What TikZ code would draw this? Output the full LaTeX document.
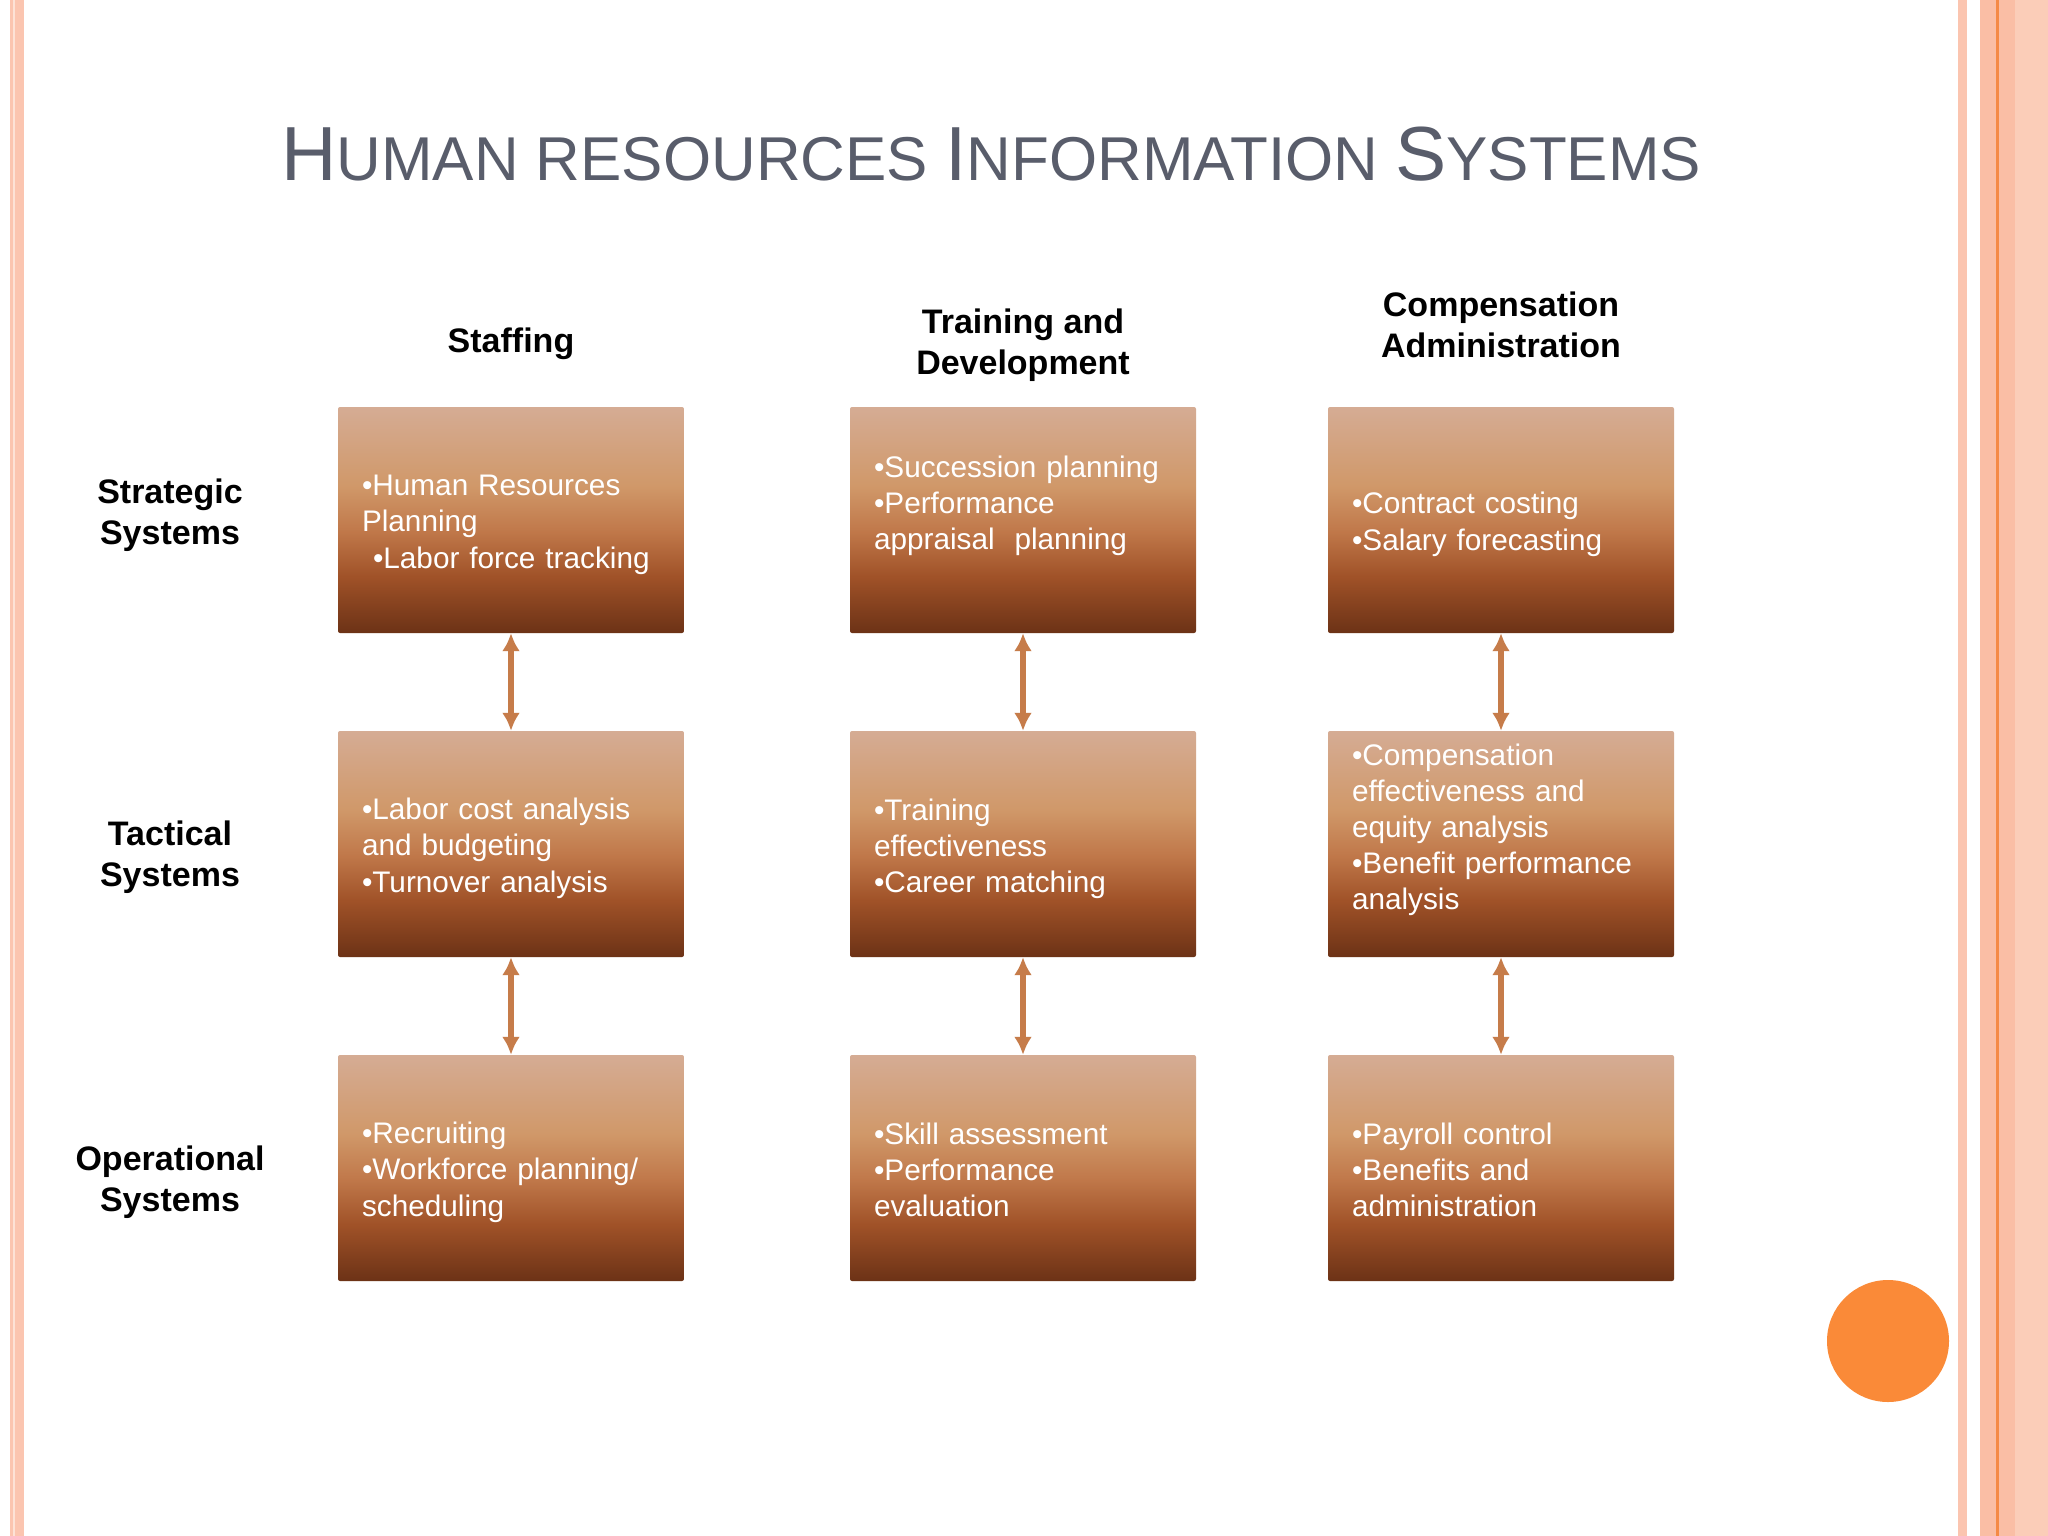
\documentclass[tikz,border=0pt]{standalone}
\usepackage{fontspec}
\setmainfont{Liberation Sans}
\usetikzlibrary{arrows.meta}
\definecolor{bxtop}{RGB}{213,172,148}
\definecolor{bxc1}{RGB}{208,152,105}
\definecolor{bxc2}{RGB}{192,120,74}
\definecolor{bxc3}{RGB}{160,82,40}
\definecolor{bxbot}{RGB}{108,50,22}
\definecolor{titlec}{RGB}{89,93,107}
\definecolor{arrowc}{RGB}{198,124,74}
\definecolor{stripe}{RGB}{251,197,176}
\definecolor{stripeb}{RGB}{250,190,165}
\definecolor{stripel}{RGB}{251,205,184}
\definecolor{stripelight}{RGB}{253,226,214}
\definecolor{orangeline}{RGB}{245,138,70}
\definecolor{circlec}{RGB}{250,138,56}
\pgfdeclareverticalshading{boxshade}{100bp}{color(0bp)=(bxbot); color(25bp)=(bxbot); color(37.5bp)=(bxc3); color(47.5bp)=(bxc2); color(57.5bp)=(bxc1); color(75bp)=(bxtop); color(100bp)=(bxtop)}
\newcommand{\capbig}[1]{{\fontsize{76.7bp}{76.7bp}\selectfont #1}}
\newcommand{\bs}{\rule[-5.6bp]{0pt}{36bp}}
\begin{document}
\begin{tikzpicture}[x=1bp,y=-1bp,
  hrbox/.style={rounded corners=2bp, shading=boxshade, minimum width=346bp, minimum height=226bp,
    text width=298bp, inner xsep=24bp, inner ysep=0bp, align=left, text=white,
    font=\fontsize{29.75bp}{36bp}\selectfont},
  headlbl/.style={align=center, font=\bfseries\fontsize{34bp}{41bp}\selectfont, text=black, inner sep=0bp},
  link/.style={draw=arrowc, line width=5.5bp, {Latex[length=18bp,width=18bp]}-{Latex[length=18bp,width=18bp]}}]
\useasboundingbox (0,0) rectangle (2048,1536);
\fill[white] (0,0) rectangle (2048,1536);
% border stripes
\fill[stripe] (10,0) rectangle (24,1536);
\fill[stripelight] (13,0) rectangle (15,1536);
\fill[stripe] (1958,0) rectangle (1967,1536);
\fill[stripeb] (1980,0) rectangle (2015,1536);
\fill[stripel] (2015,0) rectangle (2048,1536);
\fill[orangeline] (1996,0) rectangle (1998.5,1536);
% circle
\fill[circlec] (1888,1341) circle (61);
% title
\node[anchor=base west, text=titlec, inner sep=0bp, font=\fontsize{61.9bp}{61.9bp}\selectfont] (title) at (281,181)
  {\capbig{H}UMAN RESOURCES \capbig{I}NFORMATION \capbig{S}YSTEMS};
% column headers
\node[headlbl] (hstaff) at (511,343.5) {Staffing};
\node[headlbl] (htrain) at (1023,345.5) {Training and\\Development};
\node[headlbl] (hcomp) at (1501,325) {Compensation\\Administration};
% row labels
\node[headlbl] (rstrat) at (170,515.5) {Strategic\\Systems};
\node[headlbl] (rtact) at (170,857.5) {Tactical\\Systems};
\node[headlbl] (roper) at (170,1182) {Operational\\Systems};
% boxes
\node[hrbox] (b11) at (511,520) {\bs•Human Resources\\Planning\\\hspace{11bp}•Labor force tracking\bs};
\node[hrbox] (b12) at (1023,520) {\bs•Succession planning\\•Performance\\appraisal\ \ planning\\\bs};
\node[hrbox] (b13) at (1501,520) {\bs•Contract costing\\•Salary forecasting\bs};
\node[hrbox] (b21) at (511,844) {\bs•Labor cost analysis\\and budgeting\\•Turnover analysis\bs};
\node[hrbox] (b22) at (1023,844) {\bs•Training\\effectiveness\\•Career matching\bs};
\node[hrbox] (b23) at (1501,844) {\bs•Compensation\\effectiveness and\\equity analysis\\•Benefit performance\\analysis\\\bs};
\node[hrbox] (b31) at (511,1168) {\bs•Recruiting\\•Workforce planning/\\scheduling\bs};
\node[hrbox] (b32) at (1023,1168) {\bs•Skill assessment\\•Performance\\evaluation\bs};
\node[hrbox] (b33) at (1501,1168) {\bs•Payroll control\\•Benefits and\\administration\bs};
% connectors
\draw[link] (b11.south) -- (b21.north);
\draw[link] (b21.south) -- (b31.north);
\draw[link] (b12.south) -- (b22.north);
\draw[link] (b22.south) -- (b32.north);
\draw[link] (b13.south) -- (b23.north);
\draw[link] (b23.south) -- (b33.north);
\end{tikzpicture}
\end{document}
